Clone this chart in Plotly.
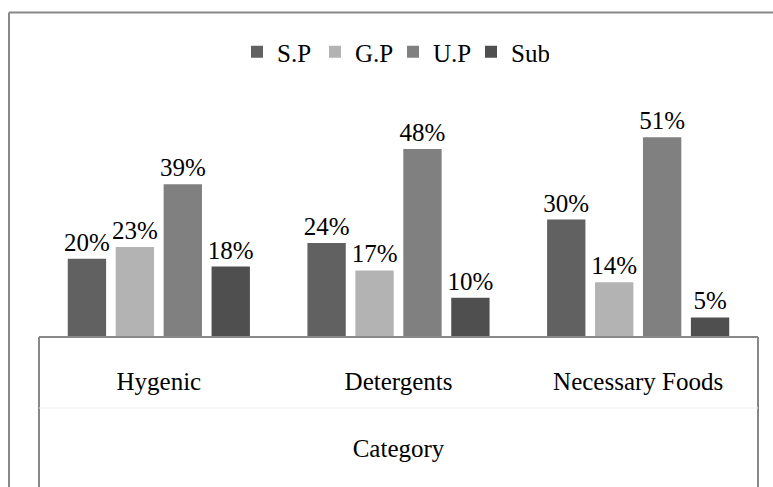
import plotly.graph_objects as go

categories = ["Hygenic", "Detergents", "Necessary Foods"]
series_names = ["S.P", "G.P", "U.P", "Sub"]
sp_values = [0.20, 0.24, 0.30]
gp_values = [0.23, 0.17, 0.14]
up_values = [0.39, 0.48, 0.51]
sub_values = [0.18, 0.10, 0.05]
colors = ["#616161", "#b3b3b3", "#808080", "#4f4f4f"]

W, H = 773, 487
L, R = 39, W - 758
T, B = 102, H - 337
ph = H - T - B
pw = W - L - R

font_family = "Liberation Serif"
FS = 25

fig = go.Figure()
for name, vals, col in zip(series_names, [sp_values, gp_values, up_values, sub_values], colors):
    fig.add_trace(go.Bar(
        x=categories, y=vals, name=name,
        marker=dict(color=col, line=dict(width=0)),
        text=[f"{round(v*100)}%" for v in vals],
        textposition="outside",
        constraintext="none",
        textfont=dict(family=font_family, size=FS, color="#000000"),
        cliponaxis=False,
    ))

def px_x(x):
    return (x - L) / pw

def px_y(y):
    return (H - B - y) / ph

shapes = [
    # outer border
    dict(type="line", xref="paper", yref="paper", x0=px_x(9), x1=px_x(800), y0=px_y(12.5), y1=px_y(12.5),
         line=dict(color="#888888", width=2)),
    dict(type="line", xref="paper", yref="paper", x0=px_x(9), x1=px_x(9), y0=px_y(12.5), y1=px_y(500),
         line=dict(color="#888888", width=2)),
    # axis box
    dict(type="line", xref="paper", yref="paper", x0=px_x(39), x1=px_x(758), y0=0, y1=0,
         line=dict(color="#888888", width=2)),
    dict(type="line", xref="paper", yref="paper", x0=px_x(39), x1=px_x(39), y0=0, y1=px_y(500),
         line=dict(color="#888888", width=2)),
    dict(type="line", xref="paper", yref="paper", x0=px_x(758), x1=px_x(758), y0=0, y1=px_y(500),
         line=dict(color="#888888", width=2)),
    dict(type="line", xref="paper", yref="paper", x0=px_x(39), x1=px_x(758), y0=px_y(408), y1=px_y(408),
         line=dict(color="#f0f0f0", width=1)),
]

fig.update_layout(
    width=W, height=H,
    margin=dict(l=L, r=R, t=T, b=B, pad=0),
    paper_bgcolor="white", plot_bgcolor="white",
    barmode="group", bargap=0.2, bargroupgap=0.2,
    font=dict(family=font_family, size=FS, color="#000000"),
    showlegend=True,
    legend=dict(orientation="h", x=px_x(237), xanchor="left", y=px_y(52), yanchor="middle",
                font=dict(family=font_family, size=FS, color="#000000"),
                entrywidth=33, entrywidthmode="pixels", itemwidth=30,
                bgcolor="rgba(0,0,0,0)"),
    xaxis=dict(showline=False, showgrid=False, zeroline=False, ticks="",
               tickfont=dict(family=font_family, size=FS, color="#000000"),
               ticklabelstandoff=27,
               title=dict(text="Category", font=dict(family=font_family, size=FS, color="#000000"), standoff=45)),
    yaxis=dict(visible=False, range=[0, 0.6]),
    shapes=shapes,
)

fig.write_html("out.html", post_script="document.body.style.margin='0';",
               config={"displayModeBar": False})
